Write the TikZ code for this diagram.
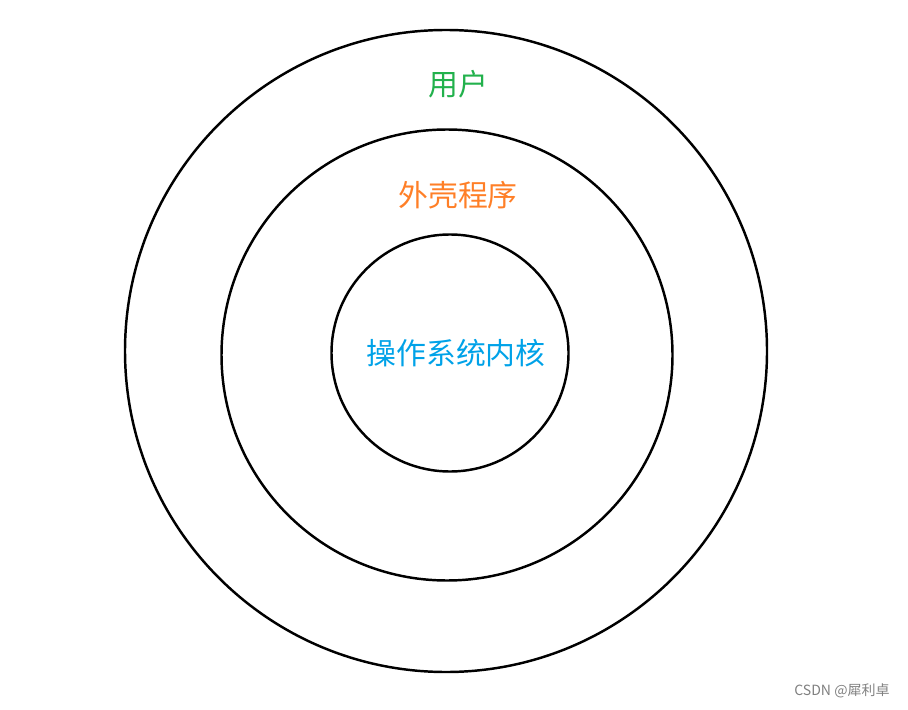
\documentclass[tikz,border=0pt]{standalone}
\usepackage{fontspec}
\setmainfont{Noto Sans CJK SC}
\definecolor{usergreen}{RGB}{34,177,76}
\definecolor{shellorange}{RGB}{255,127,39}
\definecolor{kernelblue}{RGB}{0,162,232}

\begin{document}
\begin{tikzpicture}[x=0.02cm,y=-0.02cm,
  ring/.style={draw=black,line width=1.4pt},
  label/.style={font=\fontsize{17}{20}\selectfont}]
\useasboundingbox (0,0) rectangle (908,709);

\draw[ring] (446,351) circle (321*0.02cm);
\draw[ring] (447,355) circle (225.5*0.02cm);
\draw[ring] (450,353) circle (118.5*0.02cm);

\node[label,text=usergreen] (user) at (458,84) {用户};
\node[label,text=shellorange] (shell) at (458,195) {外壳程序};
\node[label,text=kernelblue] (kernel) at (456,353) {操作系统内核};

\node[text=gray,font=\fontsize{8}{10}\selectfont] (mark) at (842,691) {CSDN @犀利卓};
\end{tikzpicture}
\end{document}
